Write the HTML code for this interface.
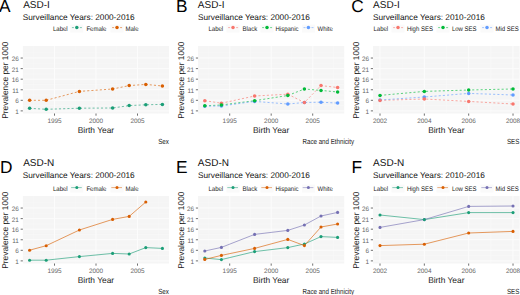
<!DOCTYPE html>
<html><head><meta charset="utf-8"><style>
html,body{margin:0;padding:0;background:#fff;width:520px;height:295px;overflow:hidden}
svg{display:block}
text{font-family:"Liberation Sans", sans-serif;text-rendering:geometricPrecision}
</style></head><body>
<svg width="520" height="295" viewBox="0 0 520 295">
<text x="-1.00" y="11.70" font-size="17.3" fill="#000" text-anchor="start" >A</text>
<text x="23.15" y="7.60" font-size="10" fill="#111" text-anchor="start" >ASD-I</text>
<text x="22.75" y="19.50" font-size="8.25" fill="#111" text-anchor="start" >Surveillance Years: 2000-2016</text>
<text x="0" y="0" font-size="6.0" fill="#222" text-anchor="start" transform="translate(53.02,30.60) scale(1,1.12)">Label</text>
<rect x="70.30" y="24.60" width="13" height="8" fill="#FAFAFA"/>
<line x1="71.90" y1="27.60" x2="81.90" y2="27.60" stroke="#1B9E77" stroke-width="0.9" stroke-opacity="0.6" stroke-dasharray="2 2"/>
<circle cx="76.80" cy="27.60" r="1.75" fill="#1B9E77"/>
<text x="0" y="0" font-size="6.0" fill="#222" text-anchor="start" transform="translate(86.42,30.60) scale(1,1.12)">Female</text>
<rect x="110.50" y="24.60" width="13" height="8" fill="#FAFAFA"/>
<line x1="112.10" y1="27.60" x2="122.10" y2="27.60" stroke="#D95F02" stroke-width="0.9" stroke-opacity="0.6" stroke-dasharray="2 2"/>
<circle cx="117.00" cy="27.60" r="1.75" fill="#D95F02"/>
<text x="0" y="0" font-size="6.0" fill="#222" text-anchor="start" transform="translate(125.52,30.60) scale(1,1.12)">Male</text>
<rect x="22.85" y="46.00" width="146.15" height="67.50" fill="#F5F5F5"/>
<line x1="22.85" y1="105.60" x2="169.00" y2="105.60" stroke="#F8F8F8" stroke-width="0.6"/>
<line x1="22.85" y1="95.03" x2="169.00" y2="95.03" stroke="#F8F8F8" stroke-width="0.6"/>
<line x1="22.85" y1="84.46" x2="169.00" y2="84.46" stroke="#F8F8F8" stroke-width="0.6"/>
<line x1="22.85" y1="73.89" x2="169.00" y2="73.89" stroke="#F8F8F8" stroke-width="0.6"/>
<line x1="22.85" y1="63.32" x2="169.00" y2="63.32" stroke="#F8F8F8" stroke-width="0.6"/>
<line x1="22.85" y1="52.75" x2="169.00" y2="52.75" stroke="#F8F8F8" stroke-width="0.6"/>
<line x1="33.75" y1="46.00" x2="33.75" y2="113.50" stroke="#F8F8F8" stroke-width="0.6"/>
<line x1="75.25" y1="46.00" x2="75.25" y2="113.50" stroke="#F8F8F8" stroke-width="0.6"/>
<line x1="116.75" y1="46.00" x2="116.75" y2="113.50" stroke="#F8F8F8" stroke-width="0.6"/>
<line x1="158.25" y1="46.00" x2="158.25" y2="113.50" stroke="#F8F8F8" stroke-width="0.6"/>
<line x1="22.85" y1="110.89" x2="169.00" y2="110.89" stroke="#FCFCFC" stroke-width="1"/>
<line x1="20.65" y1="110.89" x2="22.85" y2="110.89" stroke="#333" stroke-width="0.7"/>
<text x="18.85" y="113.99" font-size="6.4" fill="#666" text-anchor="end" >1</text>
<line x1="22.85" y1="100.32" x2="169.00" y2="100.32" stroke="#FCFCFC" stroke-width="1"/>
<line x1="20.65" y1="100.32" x2="22.85" y2="100.32" stroke="#333" stroke-width="0.7"/>
<text x="18.85" y="103.42" font-size="6.4" fill="#666" text-anchor="end" >6</text>
<line x1="22.85" y1="89.75" x2="169.00" y2="89.75" stroke="#FCFCFC" stroke-width="1"/>
<line x1="20.65" y1="89.75" x2="22.85" y2="89.75" stroke="#333" stroke-width="0.7"/>
<text x="18.85" y="92.85" font-size="6.4" fill="#666" text-anchor="end" >11</text>
<line x1="22.85" y1="79.18" x2="169.00" y2="79.18" stroke="#FCFCFC" stroke-width="1"/>
<line x1="20.65" y1="79.18" x2="22.85" y2="79.18" stroke="#333" stroke-width="0.7"/>
<text x="18.85" y="82.28" font-size="6.4" fill="#666" text-anchor="end" >16</text>
<line x1="22.85" y1="68.61" x2="169.00" y2="68.61" stroke="#FCFCFC" stroke-width="1"/>
<line x1="20.65" y1="68.61" x2="22.85" y2="68.61" stroke="#333" stroke-width="0.7"/>
<text x="18.85" y="71.71" font-size="6.4" fill="#666" text-anchor="end" >21</text>
<line x1="22.85" y1="58.04" x2="169.00" y2="58.04" stroke="#FCFCFC" stroke-width="1"/>
<line x1="20.65" y1="58.04" x2="22.85" y2="58.04" stroke="#333" stroke-width="0.7"/>
<text x="18.85" y="61.14" font-size="6.4" fill="#666" text-anchor="end" >26</text>
<line x1="54.50" y1="46.00" x2="54.50" y2="113.50" stroke="#FCFCFC" stroke-width="1"/>
<line x1="54.50" y1="113.50" x2="54.50" y2="115.70" stroke="#333" stroke-width="0.7"/>
<text x="54.50" y="122.70" font-size="6.4" fill="#666" text-anchor="middle" >1995</text>
<line x1="96.00" y1="46.00" x2="96.00" y2="113.50" stroke="#FCFCFC" stroke-width="1"/>
<line x1="96.00" y1="113.50" x2="96.00" y2="115.70" stroke="#333" stroke-width="0.7"/>
<text x="96.00" y="122.70" font-size="6.4" fill="#666" text-anchor="middle" >2000</text>
<line x1="137.50" y1="46.00" x2="137.50" y2="113.50" stroke="#FCFCFC" stroke-width="1"/>
<line x1="137.50" y1="113.50" x2="137.50" y2="115.70" stroke="#333" stroke-width="0.7"/>
<text x="137.50" y="122.70" font-size="6.4" fill="#666" text-anchor="middle" >2005</text>
<text x="95.93" y="133.00" font-size="8.4" fill="#1a1a1a" text-anchor="middle" >Birth Year</text>
<text x="0.00" y="0.00" font-size="8.4" fill="#1a1a1a" text-anchor="middle" transform="translate(8.30,80.15) rotate(-90)">Prevalence per 1000</text>
<text x="0" y="0" font-size="6.2" fill="#222" text-anchor="end" transform="translate(168.91,143.50) scale(1,1.2)">Sex</text>
<polyline points="29.60,108.30 46.20,109.30 79.40,108.20 112.60,108.00 129.20,105.60 145.80,104.80 162.40,104.40" fill="none" stroke="#1B9E77" stroke-width="0.9" stroke-opacity="0.7" stroke-dasharray="2.1 2.1"/>
<polyline points="29.60,100.30 46.20,100.30 79.40,91.40 112.60,89.00 129.20,85.60 145.80,84.40 162.40,86.00" fill="none" stroke="#D95F02" stroke-width="0.9" stroke-opacity="0.7" stroke-dasharray="2.1 2.1"/>
<circle cx="29.60" cy="108.30" r="1.75" fill="#1B9E77"/>
<circle cx="46.20" cy="109.30" r="1.75" fill="#1B9E77"/>
<circle cx="79.40" cy="108.20" r="1.75" fill="#1B9E77"/>
<circle cx="112.60" cy="108.00" r="1.75" fill="#1B9E77"/>
<circle cx="129.20" cy="105.60" r="1.75" fill="#1B9E77"/>
<circle cx="145.80" cy="104.80" r="1.75" fill="#1B9E77"/>
<circle cx="162.40" cy="104.40" r="1.75" fill="#1B9E77"/>
<circle cx="29.60" cy="100.30" r="1.75" fill="#D95F02"/>
<circle cx="46.20" cy="100.30" r="1.75" fill="#D95F02"/>
<circle cx="79.40" cy="91.40" r="1.75" fill="#D95F02"/>
<circle cx="112.60" cy="89.00" r="1.75" fill="#D95F02"/>
<circle cx="129.20" cy="85.60" r="1.75" fill="#D95F02"/>
<circle cx="145.80" cy="84.40" r="1.75" fill="#D95F02"/>
<circle cx="162.40" cy="86.00" r="1.75" fill="#D95F02"/>
<text x="176.00" y="11.70" font-size="17.3" fill="#000" text-anchor="start" >B</text>
<text x="197.85" y="7.60" font-size="10" fill="#111" text-anchor="start" >ASD-I</text>
<text x="197.95" y="19.50" font-size="8.25" fill="#111" text-anchor="start" >Surveillance Years: 2000-2016</text>
<text x="0" y="0" font-size="6.0" fill="#222" text-anchor="start" transform="translate(208.52,30.60) scale(1,1.12)">Label</text>
<rect x="226.50" y="24.60" width="13" height="8" fill="#FAFAFA"/>
<line x1="228.10" y1="27.60" x2="238.10" y2="27.60" stroke="#F8766D" stroke-width="0.9" stroke-opacity="0.6" stroke-dasharray="2 2"/>
<circle cx="233.00" cy="27.60" r="1.75" fill="#F8766D"/>
<text x="0" y="0" font-size="6.0" fill="#222" text-anchor="start" transform="translate(242.52,30.60) scale(1,1.12)">Black</text>
<rect x="260.50" y="24.60" width="13" height="8" fill="#FAFAFA"/>
<line x1="262.10" y1="27.60" x2="272.10" y2="27.60" stroke="#00BA38" stroke-width="0.9" stroke-opacity="0.6" stroke-dasharray="2 2"/>
<circle cx="267.00" cy="27.60" r="1.75" fill="#00BA38"/>
<text x="0" y="0" font-size="6.0" fill="#222" text-anchor="start" transform="translate(275.52,30.60) scale(1,1.12)">Hispanic</text>
<rect x="301.90" y="24.60" width="13" height="8" fill="#FAFAFA"/>
<line x1="303.50" y1="27.60" x2="313.50" y2="27.60" stroke="#619CFF" stroke-width="0.9" stroke-opacity="0.6" stroke-dasharray="2 2"/>
<circle cx="308.40" cy="27.60" r="1.75" fill="#619CFF"/>
<text x="0" y="0" font-size="6.0" fill="#222" text-anchor="start" transform="translate(317.52,30.60) scale(1,1.12)">White</text>
<rect x="198.05" y="46.00" width="146.15" height="67.50" fill="#F5F5F5"/>
<line x1="198.05" y1="105.60" x2="344.20" y2="105.60" stroke="#F8F8F8" stroke-width="0.6"/>
<line x1="198.05" y1="95.03" x2="344.20" y2="95.03" stroke="#F8F8F8" stroke-width="0.6"/>
<line x1="198.05" y1="84.46" x2="344.20" y2="84.46" stroke="#F8F8F8" stroke-width="0.6"/>
<line x1="198.05" y1="73.89" x2="344.20" y2="73.89" stroke="#F8F8F8" stroke-width="0.6"/>
<line x1="198.05" y1="63.32" x2="344.20" y2="63.32" stroke="#F8F8F8" stroke-width="0.6"/>
<line x1="198.05" y1="52.75" x2="344.20" y2="52.75" stroke="#F8F8F8" stroke-width="0.6"/>
<line x1="208.95" y1="46.00" x2="208.95" y2="113.50" stroke="#F8F8F8" stroke-width="0.6"/>
<line x1="250.45" y1="46.00" x2="250.45" y2="113.50" stroke="#F8F8F8" stroke-width="0.6"/>
<line x1="291.95" y1="46.00" x2="291.95" y2="113.50" stroke="#F8F8F8" stroke-width="0.6"/>
<line x1="333.45" y1="46.00" x2="333.45" y2="113.50" stroke="#F8F8F8" stroke-width="0.6"/>
<line x1="198.05" y1="110.89" x2="344.20" y2="110.89" stroke="#FCFCFC" stroke-width="1"/>
<line x1="195.85" y1="110.89" x2="198.05" y2="110.89" stroke="#333" stroke-width="0.7"/>
<text x="194.05" y="113.99" font-size="6.4" fill="#666" text-anchor="end" >1</text>
<line x1="198.05" y1="100.32" x2="344.20" y2="100.32" stroke="#FCFCFC" stroke-width="1"/>
<line x1="195.85" y1="100.32" x2="198.05" y2="100.32" stroke="#333" stroke-width="0.7"/>
<text x="194.05" y="103.42" font-size="6.4" fill="#666" text-anchor="end" >6</text>
<line x1="198.05" y1="89.75" x2="344.20" y2="89.75" stroke="#FCFCFC" stroke-width="1"/>
<line x1="195.85" y1="89.75" x2="198.05" y2="89.75" stroke="#333" stroke-width="0.7"/>
<text x="194.05" y="92.85" font-size="6.4" fill="#666" text-anchor="end" >11</text>
<line x1="198.05" y1="79.18" x2="344.20" y2="79.18" stroke="#FCFCFC" stroke-width="1"/>
<line x1="195.85" y1="79.18" x2="198.05" y2="79.18" stroke="#333" stroke-width="0.7"/>
<text x="194.05" y="82.28" font-size="6.4" fill="#666" text-anchor="end" >16</text>
<line x1="198.05" y1="68.61" x2="344.20" y2="68.61" stroke="#FCFCFC" stroke-width="1"/>
<line x1="195.85" y1="68.61" x2="198.05" y2="68.61" stroke="#333" stroke-width="0.7"/>
<text x="194.05" y="71.71" font-size="6.4" fill="#666" text-anchor="end" >21</text>
<line x1="198.05" y1="58.04" x2="344.20" y2="58.04" stroke="#FCFCFC" stroke-width="1"/>
<line x1="195.85" y1="58.04" x2="198.05" y2="58.04" stroke="#333" stroke-width="0.7"/>
<text x="194.05" y="61.14" font-size="6.4" fill="#666" text-anchor="end" >26</text>
<line x1="229.70" y1="46.00" x2="229.70" y2="113.50" stroke="#FCFCFC" stroke-width="1"/>
<line x1="229.70" y1="113.50" x2="229.70" y2="115.70" stroke="#333" stroke-width="0.7"/>
<text x="229.70" y="122.70" font-size="6.4" fill="#666" text-anchor="middle" >1995</text>
<line x1="271.20" y1="46.00" x2="271.20" y2="113.50" stroke="#FCFCFC" stroke-width="1"/>
<line x1="271.20" y1="113.50" x2="271.20" y2="115.70" stroke="#333" stroke-width="0.7"/>
<text x="271.20" y="122.70" font-size="6.4" fill="#666" text-anchor="middle" >2000</text>
<line x1="312.70" y1="46.00" x2="312.70" y2="113.50" stroke="#FCFCFC" stroke-width="1"/>
<line x1="312.70" y1="113.50" x2="312.70" y2="115.70" stroke="#333" stroke-width="0.7"/>
<text x="312.70" y="122.70" font-size="6.4" fill="#666" text-anchor="middle" >2005</text>
<text x="271.12" y="133.00" font-size="8.4" fill="#1a1a1a" text-anchor="middle" >Birth Year</text>
<text x="0.00" y="0.00" font-size="8.4" fill="#1a1a1a" text-anchor="middle" transform="translate(183.70,80.15) rotate(-90)">Prevalence per 1000</text>
<text x="0" y="0" font-size="6.2" fill="#222" text-anchor="end" transform="translate(354.06,143.50) scale(1,1.2)">Race and Ethnicity</text>
<polyline points="204.80,100.70 221.40,103.20 254.60,96.00 287.80,94.20 304.40,102.50 321.00,85.60 337.60,87.50" fill="none" stroke="#F8766D" stroke-width="0.9" stroke-opacity="0.7" stroke-dasharray="2.1 2.1"/>
<polyline points="204.80,105.80 221.40,105.00 254.60,100.70 287.80,95.50 304.40,89.00 321.00,90.40 337.60,92.00" fill="none" stroke="#00BA38" stroke-width="0.9" stroke-opacity="0.7" stroke-dasharray="2.1 2.1"/>
<polyline points="204.80,106.20 221.40,106.00 254.60,101.40 287.80,104.00 304.40,102.50 321.00,102.20 337.60,103.10" fill="none" stroke="#619CFF" stroke-width="0.9" stroke-opacity="0.7" stroke-dasharray="2.1 2.1"/>
<circle cx="204.80" cy="106.20" r="1.75" fill="#619CFF"/>
<circle cx="221.40" cy="106.00" r="1.75" fill="#619CFF"/>
<circle cx="254.60" cy="101.40" r="1.75" fill="#619CFF"/>
<circle cx="287.80" cy="104.00" r="1.75" fill="#619CFF"/>
<circle cx="304.40" cy="102.50" r="1.75" fill="#619CFF"/>
<circle cx="321.00" cy="102.20" r="1.75" fill="#619CFF"/>
<circle cx="337.60" cy="103.10" r="1.75" fill="#619CFF"/>
<circle cx="204.80" cy="100.70" r="1.75" fill="#F8766D"/>
<circle cx="221.40" cy="103.20" r="1.75" fill="#F8766D"/>
<circle cx="254.60" cy="96.00" r="1.75" fill="#F8766D"/>
<circle cx="287.80" cy="94.20" r="1.75" fill="#F8766D"/>
<circle cx="304.40" cy="102.50" r="1.75" fill="#F8766D"/>
<circle cx="321.00" cy="85.60" r="1.75" fill="#F8766D"/>
<circle cx="337.60" cy="87.50" r="1.75" fill="#F8766D"/>
<circle cx="204.80" cy="105.80" r="1.75" fill="#00BA38"/>
<circle cx="221.40" cy="105.00" r="1.75" fill="#00BA38"/>
<circle cx="254.60" cy="100.70" r="1.75" fill="#00BA38"/>
<circle cx="287.80" cy="95.50" r="1.75" fill="#00BA38"/>
<circle cx="304.40" cy="89.00" r="1.75" fill="#00BA38"/>
<circle cx="321.00" cy="90.40" r="1.75" fill="#00BA38"/>
<circle cx="337.60" cy="92.00" r="1.75" fill="#00BA38"/>
<text x="351.30" y="11.70" font-size="17.3" fill="#000" text-anchor="start" >C</text>
<text x="373.10" y="7.60" font-size="10" fill="#111" text-anchor="start" >ASD-I</text>
<text x="372.90" y="19.50" font-size="8.25" fill="#111" text-anchor="start" >Surveillance Years: 2010-2016</text>
<text x="0" y="0" font-size="6.0" fill="#222" text-anchor="start" transform="translate(373.52,30.60) scale(1,1.12)">Label</text>
<rect x="391.50" y="24.60" width="13" height="8" fill="#FAFAFA"/>
<line x1="393.10" y1="27.60" x2="403.10" y2="27.60" stroke="#F8766D" stroke-width="0.9" stroke-opacity="0.6" stroke-dasharray="2 2"/>
<circle cx="398.00" cy="27.60" r="1.75" fill="#F8766D"/>
<text x="0" y="0" font-size="6.0" fill="#222" text-anchor="start" transform="translate(406.92,30.60) scale(1,1.12)">High SES</text>
<rect x="436.50" y="24.60" width="13" height="8" fill="#FAFAFA"/>
<line x1="438.10" y1="27.60" x2="448.10" y2="27.60" stroke="#00BA38" stroke-width="0.9" stroke-opacity="0.6" stroke-dasharray="2 2"/>
<circle cx="443.00" cy="27.60" r="1.75" fill="#00BA38"/>
<text x="0" y="0" font-size="6.0" fill="#222" text-anchor="start" transform="translate(451.92,30.60) scale(1,1.12)">Low SES</text>
<rect x="480.50" y="24.60" width="13" height="8" fill="#FAFAFA"/>
<line x1="482.10" y1="27.60" x2="492.10" y2="27.60" stroke="#619CFF" stroke-width="0.9" stroke-opacity="0.6" stroke-dasharray="2 2"/>
<circle cx="487.00" cy="27.60" r="1.75" fill="#619CFF"/>
<text x="0" y="0" font-size="6.0" fill="#222" text-anchor="start" transform="translate(495.52,30.60) scale(1,1.12)">Mid SES</text>
<rect x="373.00" y="46.00" width="146.60" height="67.50" fill="#F5F5F5"/>
<line x1="373.00" y1="105.60" x2="519.60" y2="105.60" stroke="#F8F8F8" stroke-width="0.6"/>
<line x1="373.00" y1="95.03" x2="519.60" y2="95.03" stroke="#F8F8F8" stroke-width="0.6"/>
<line x1="373.00" y1="84.46" x2="519.60" y2="84.46" stroke="#F8F8F8" stroke-width="0.6"/>
<line x1="373.00" y1="73.89" x2="519.60" y2="73.89" stroke="#F8F8F8" stroke-width="0.6"/>
<line x1="373.00" y1="63.32" x2="519.60" y2="63.32" stroke="#F8F8F8" stroke-width="0.6"/>
<line x1="373.00" y1="52.75" x2="519.60" y2="52.75" stroke="#F8F8F8" stroke-width="0.6"/>
<line x1="402.17" y1="46.00" x2="402.17" y2="113.50" stroke="#F8F8F8" stroke-width="0.6"/>
<line x1="446.51" y1="46.00" x2="446.51" y2="113.50" stroke="#F8F8F8" stroke-width="0.6"/>
<line x1="490.85" y1="46.00" x2="490.85" y2="113.50" stroke="#F8F8F8" stroke-width="0.6"/>
<line x1="373.00" y1="110.89" x2="519.60" y2="110.89" stroke="#FCFCFC" stroke-width="1"/>
<line x1="370.80" y1="110.89" x2="373.00" y2="110.89" stroke="#333" stroke-width="0.7"/>
<text x="369.00" y="113.99" font-size="6.4" fill="#666" text-anchor="end" >1</text>
<line x1="373.00" y1="100.32" x2="519.60" y2="100.32" stroke="#FCFCFC" stroke-width="1"/>
<line x1="370.80" y1="100.32" x2="373.00" y2="100.32" stroke="#333" stroke-width="0.7"/>
<text x="369.00" y="103.42" font-size="6.4" fill="#666" text-anchor="end" >6</text>
<line x1="373.00" y1="89.75" x2="519.60" y2="89.75" stroke="#FCFCFC" stroke-width="1"/>
<line x1="370.80" y1="89.75" x2="373.00" y2="89.75" stroke="#333" stroke-width="0.7"/>
<text x="369.00" y="92.85" font-size="6.4" fill="#666" text-anchor="end" >11</text>
<line x1="373.00" y1="79.18" x2="519.60" y2="79.18" stroke="#FCFCFC" stroke-width="1"/>
<line x1="370.80" y1="79.18" x2="373.00" y2="79.18" stroke="#333" stroke-width="0.7"/>
<text x="369.00" y="82.28" font-size="6.4" fill="#666" text-anchor="end" >16</text>
<line x1="373.00" y1="68.61" x2="519.60" y2="68.61" stroke="#FCFCFC" stroke-width="1"/>
<line x1="370.80" y1="68.61" x2="373.00" y2="68.61" stroke="#333" stroke-width="0.7"/>
<text x="369.00" y="71.71" font-size="6.4" fill="#666" text-anchor="end" >21</text>
<line x1="373.00" y1="58.04" x2="519.60" y2="58.04" stroke="#FCFCFC" stroke-width="1"/>
<line x1="370.80" y1="58.04" x2="373.00" y2="58.04" stroke="#333" stroke-width="0.7"/>
<text x="369.00" y="61.14" font-size="6.4" fill="#666" text-anchor="end" >26</text>
<line x1="380.00" y1="46.00" x2="380.00" y2="113.50" stroke="#FCFCFC" stroke-width="1"/>
<line x1="380.00" y1="113.50" x2="380.00" y2="115.70" stroke="#333" stroke-width="0.7"/>
<text x="380.00" y="122.70" font-size="6.4" fill="#666" text-anchor="middle" >2002</text>
<line x1="424.34" y1="46.00" x2="424.34" y2="113.50" stroke="#FCFCFC" stroke-width="1"/>
<line x1="424.34" y1="113.50" x2="424.34" y2="115.70" stroke="#333" stroke-width="0.7"/>
<text x="424.34" y="122.70" font-size="6.4" fill="#666" text-anchor="middle" >2004</text>
<line x1="468.68" y1="46.00" x2="468.68" y2="113.50" stroke="#FCFCFC" stroke-width="1"/>
<line x1="468.68" y1="113.50" x2="468.68" y2="115.70" stroke="#333" stroke-width="0.7"/>
<text x="468.68" y="122.70" font-size="6.4" fill="#666" text-anchor="middle" >2006</text>
<line x1="513.02" y1="46.00" x2="513.02" y2="113.50" stroke="#FCFCFC" stroke-width="1"/>
<line x1="513.02" y1="113.50" x2="513.02" y2="115.70" stroke="#333" stroke-width="0.7"/>
<text x="513.02" y="122.70" font-size="6.4" fill="#666" text-anchor="middle" >2008</text>
<text x="446.30" y="133.00" font-size="8.4" fill="#1a1a1a" text-anchor="middle" >Birth Year</text>
<text x="0.00" y="0.00" font-size="8.4" fill="#1a1a1a" text-anchor="middle" transform="translate(358.90,80.15) rotate(-90)">Prevalence per 1000</text>
<text x="0" y="0" font-size="6.2" fill="#222" text-anchor="end" transform="translate(519.31,143.50) scale(1,1.2)">SES</text>
<polyline points="380.00,100.40 424.34,99.00 468.68,101.40 513.02,104.00" fill="none" stroke="#F8766D" stroke-width="0.9" stroke-opacity="0.7" stroke-dasharray="2.1 2.1"/>
<polyline points="380.00,95.40 424.34,91.40 468.68,90.00 513.02,89.00" fill="none" stroke="#00BA38" stroke-width="0.9" stroke-opacity="0.7" stroke-dasharray="2.1 2.1"/>
<polyline points="380.00,100.00 424.34,97.00 468.68,93.40 513.02,95.00" fill="none" stroke="#619CFF" stroke-width="0.9" stroke-opacity="0.7" stroke-dasharray="2.1 2.1"/>
<circle cx="380.00" cy="100.00" r="1.75" fill="#619CFF"/>
<circle cx="424.34" cy="97.00" r="1.75" fill="#619CFF"/>
<circle cx="468.68" cy="93.40" r="1.75" fill="#619CFF"/>
<circle cx="513.02" cy="95.00" r="1.75" fill="#619CFF"/>
<circle cx="380.00" cy="100.40" r="1.75" fill="#F8766D"/>
<circle cx="424.34" cy="99.00" r="1.75" fill="#F8766D"/>
<circle cx="468.68" cy="101.40" r="1.75" fill="#F8766D"/>
<circle cx="513.02" cy="104.00" r="1.75" fill="#F8766D"/>
<circle cx="380.00" cy="95.40" r="1.75" fill="#00BA38"/>
<circle cx="424.34" cy="91.40" r="1.75" fill="#00BA38"/>
<circle cx="468.68" cy="90.00" r="1.75" fill="#00BA38"/>
<circle cx="513.02" cy="89.00" r="1.75" fill="#00BA38"/>
<text x="0.10" y="172.90" font-size="17.3" fill="#000" text-anchor="start" >D</text>
<text x="23.15" y="165.70" font-size="10" fill="#111" text-anchor="start" >ASD-N</text>
<text x="22.75" y="177.90" font-size="8.25" fill="#111" text-anchor="start" >Surveillance Years: 2000-2016</text>
<text x="0" y="0" font-size="6.0" fill="#222" text-anchor="start" transform="translate(53.02,190.60) scale(1,1.12)">Label</text>
<rect x="70.30" y="184.60" width="13" height="8" fill="#FAFAFA"/>
<line x1="71.10" y1="187.60" x2="81.80" y2="187.60" stroke="#1B9E77" stroke-width="0.9" stroke-opacity="0.55"/>
<circle cx="76.80" cy="187.60" r="1.5" fill="#1B9E77"/>
<text x="0" y="0" font-size="6.0" fill="#222" text-anchor="start" transform="translate(86.42,190.60) scale(1,1.12)">Female</text>
<rect x="110.50" y="184.60" width="13" height="8" fill="#FAFAFA"/>
<line x1="111.30" y1="187.60" x2="122.00" y2="187.60" stroke="#D95F02" stroke-width="0.9" stroke-opacity="0.55"/>
<circle cx="117.00" cy="187.60" r="1.5" fill="#D95F02"/>
<text x="0" y="0" font-size="6.0" fill="#222" text-anchor="start" transform="translate(125.52,190.60) scale(1,1.12)">Male</text>
<rect x="22.85" y="196.00" width="146.15" height="67.50" fill="#F5F5F5"/>
<line x1="22.85" y1="255.60" x2="169.00" y2="255.60" stroke="#F8F8F8" stroke-width="0.6"/>
<line x1="22.85" y1="245.03" x2="169.00" y2="245.03" stroke="#F8F8F8" stroke-width="0.6"/>
<line x1="22.85" y1="234.46" x2="169.00" y2="234.46" stroke="#F8F8F8" stroke-width="0.6"/>
<line x1="22.85" y1="223.89" x2="169.00" y2="223.89" stroke="#F8F8F8" stroke-width="0.6"/>
<line x1="22.85" y1="213.32" x2="169.00" y2="213.32" stroke="#F8F8F8" stroke-width="0.6"/>
<line x1="22.85" y1="202.75" x2="169.00" y2="202.75" stroke="#F8F8F8" stroke-width="0.6"/>
<line x1="33.75" y1="196.00" x2="33.75" y2="263.50" stroke="#F8F8F8" stroke-width="0.6"/>
<line x1="75.25" y1="196.00" x2="75.25" y2="263.50" stroke="#F8F8F8" stroke-width="0.6"/>
<line x1="116.75" y1="196.00" x2="116.75" y2="263.50" stroke="#F8F8F8" stroke-width="0.6"/>
<line x1="158.25" y1="196.00" x2="158.25" y2="263.50" stroke="#F8F8F8" stroke-width="0.6"/>
<line x1="22.85" y1="260.89" x2="169.00" y2="260.89" stroke="#FCFCFC" stroke-width="1"/>
<line x1="20.65" y1="260.89" x2="22.85" y2="260.89" stroke="#333" stroke-width="0.7"/>
<text x="18.85" y="263.99" font-size="6.4" fill="#666" text-anchor="end" >1</text>
<line x1="22.85" y1="250.32" x2="169.00" y2="250.32" stroke="#FCFCFC" stroke-width="1"/>
<line x1="20.65" y1="250.32" x2="22.85" y2="250.32" stroke="#333" stroke-width="0.7"/>
<text x="18.85" y="253.42" font-size="6.4" fill="#666" text-anchor="end" >6</text>
<line x1="22.85" y1="239.75" x2="169.00" y2="239.75" stroke="#FCFCFC" stroke-width="1"/>
<line x1="20.65" y1="239.75" x2="22.85" y2="239.75" stroke="#333" stroke-width="0.7"/>
<text x="18.85" y="242.85" font-size="6.4" fill="#666" text-anchor="end" >11</text>
<line x1="22.85" y1="229.18" x2="169.00" y2="229.18" stroke="#FCFCFC" stroke-width="1"/>
<line x1="20.65" y1="229.18" x2="22.85" y2="229.18" stroke="#333" stroke-width="0.7"/>
<text x="18.85" y="232.28" font-size="6.4" fill="#666" text-anchor="end" >16</text>
<line x1="22.85" y1="218.61" x2="169.00" y2="218.61" stroke="#FCFCFC" stroke-width="1"/>
<line x1="20.65" y1="218.61" x2="22.85" y2="218.61" stroke="#333" stroke-width="0.7"/>
<text x="18.85" y="221.71" font-size="6.4" fill="#666" text-anchor="end" >21</text>
<line x1="22.85" y1="208.04" x2="169.00" y2="208.04" stroke="#FCFCFC" stroke-width="1"/>
<line x1="20.65" y1="208.04" x2="22.85" y2="208.04" stroke="#333" stroke-width="0.7"/>
<text x="18.85" y="211.14" font-size="6.4" fill="#666" text-anchor="end" >26</text>
<line x1="54.50" y1="196.00" x2="54.50" y2="263.50" stroke="#FCFCFC" stroke-width="1"/>
<line x1="54.50" y1="263.50" x2="54.50" y2="265.70" stroke="#333" stroke-width="0.7"/>
<text x="54.50" y="272.70" font-size="6.4" fill="#666" text-anchor="middle" >1995</text>
<line x1="96.00" y1="196.00" x2="96.00" y2="263.50" stroke="#FCFCFC" stroke-width="1"/>
<line x1="96.00" y1="263.50" x2="96.00" y2="265.70" stroke="#333" stroke-width="0.7"/>
<text x="96.00" y="272.70" font-size="6.4" fill="#666" text-anchor="middle" >2000</text>
<line x1="137.50" y1="196.00" x2="137.50" y2="263.50" stroke="#FCFCFC" stroke-width="1"/>
<line x1="137.50" y1="263.50" x2="137.50" y2="265.70" stroke="#333" stroke-width="0.7"/>
<text x="137.50" y="272.70" font-size="6.4" fill="#666" text-anchor="middle" >2005</text>
<text x="95.93" y="283.00" font-size="8.4" fill="#1a1a1a" text-anchor="middle" >Birth Year</text>
<text x="0.00" y="0.00" font-size="8.4" fill="#1a1a1a" text-anchor="middle" transform="translate(8.30,230.15) rotate(-90)">Prevalence per 1000</text>
<text x="0" y="0" font-size="6.2" fill="#222" text-anchor="end" transform="translate(168.91,293.50) scale(1,1.2)">Sex</text>
<polyline points="29.60,260.20 46.20,260.20 79.40,256.60 112.60,253.40 129.20,254.00 145.80,247.60 162.40,248.40" fill="none" stroke="#1B9E77" stroke-width="0.9" stroke-opacity="0.7"/>
<polyline points="29.60,250.20 46.20,245.70 79.40,230.00 112.60,219.40 129.20,216.40 145.80,202.00" fill="none" stroke="#D95F02" stroke-width="0.9" stroke-opacity="0.7"/>
<circle cx="29.60" cy="260.20" r="1.55" fill="#1B9E77"/>
<circle cx="46.20" cy="260.20" r="1.55" fill="#1B9E77"/>
<circle cx="79.40" cy="256.60" r="1.55" fill="#1B9E77"/>
<circle cx="112.60" cy="253.40" r="1.55" fill="#1B9E77"/>
<circle cx="129.20" cy="254.00" r="1.55" fill="#1B9E77"/>
<circle cx="145.80" cy="247.60" r="1.55" fill="#1B9E77"/>
<circle cx="162.40" cy="248.40" r="1.55" fill="#1B9E77"/>
<circle cx="29.60" cy="250.20" r="1.55" fill="#D95F02"/>
<circle cx="46.20" cy="245.70" r="1.55" fill="#D95F02"/>
<circle cx="79.40" cy="230.00" r="1.55" fill="#D95F02"/>
<circle cx="112.60" cy="219.40" r="1.55" fill="#D95F02"/>
<circle cx="129.20" cy="216.40" r="1.55" fill="#D95F02"/>
<circle cx="145.80" cy="202.00" r="1.55" fill="#D95F02"/>
<text x="176.00" y="172.90" font-size="17.3" fill="#000" text-anchor="start" >E</text>
<text x="197.85" y="165.70" font-size="10" fill="#111" text-anchor="start" >ASD-N</text>
<text x="197.95" y="177.90" font-size="8.25" fill="#111" text-anchor="start" >Surveillance Years: 2000-2016</text>
<text x="0" y="0" font-size="6.0" fill="#222" text-anchor="start" transform="translate(208.52,190.60) scale(1,1.12)">Label</text>
<rect x="226.50" y="184.60" width="13" height="8" fill="#FAFAFA"/>
<line x1="227.30" y1="187.60" x2="238.00" y2="187.60" stroke="#1B9E77" stroke-width="0.9" stroke-opacity="0.55"/>
<circle cx="233.00" cy="187.60" r="1.5" fill="#1B9E77"/>
<text x="0" y="0" font-size="6.0" fill="#222" text-anchor="start" transform="translate(242.52,190.60) scale(1,1.12)">Black</text>
<rect x="260.50" y="184.60" width="13" height="8" fill="#FAFAFA"/>
<line x1="261.30" y1="187.60" x2="272.00" y2="187.60" stroke="#D95F02" stroke-width="0.9" stroke-opacity="0.55"/>
<circle cx="267.00" cy="187.60" r="1.5" fill="#D95F02"/>
<text x="0" y="0" font-size="6.0" fill="#222" text-anchor="start" transform="translate(275.52,190.60) scale(1,1.12)">Hispanic</text>
<rect x="301.90" y="184.60" width="13" height="8" fill="#FAFAFA"/>
<line x1="302.70" y1="187.60" x2="313.40" y2="187.60" stroke="#7570B3" stroke-width="0.9" stroke-opacity="0.55"/>
<circle cx="308.40" cy="187.60" r="1.5" fill="#7570B3"/>
<text x="0" y="0" font-size="6.0" fill="#222" text-anchor="start" transform="translate(317.52,190.60) scale(1,1.12)">White</text>
<rect x="198.05" y="196.00" width="146.15" height="67.50" fill="#F5F5F5"/>
<line x1="198.05" y1="255.60" x2="344.20" y2="255.60" stroke="#F8F8F8" stroke-width="0.6"/>
<line x1="198.05" y1="245.03" x2="344.20" y2="245.03" stroke="#F8F8F8" stroke-width="0.6"/>
<line x1="198.05" y1="234.46" x2="344.20" y2="234.46" stroke="#F8F8F8" stroke-width="0.6"/>
<line x1="198.05" y1="223.89" x2="344.20" y2="223.89" stroke="#F8F8F8" stroke-width="0.6"/>
<line x1="198.05" y1="213.32" x2="344.20" y2="213.32" stroke="#F8F8F8" stroke-width="0.6"/>
<line x1="198.05" y1="202.75" x2="344.20" y2="202.75" stroke="#F8F8F8" stroke-width="0.6"/>
<line x1="208.95" y1="196.00" x2="208.95" y2="263.50" stroke="#F8F8F8" stroke-width="0.6"/>
<line x1="250.45" y1="196.00" x2="250.45" y2="263.50" stroke="#F8F8F8" stroke-width="0.6"/>
<line x1="291.95" y1="196.00" x2="291.95" y2="263.50" stroke="#F8F8F8" stroke-width="0.6"/>
<line x1="333.45" y1="196.00" x2="333.45" y2="263.50" stroke="#F8F8F8" stroke-width="0.6"/>
<line x1="198.05" y1="260.89" x2="344.20" y2="260.89" stroke="#FCFCFC" stroke-width="1"/>
<line x1="195.85" y1="260.89" x2="198.05" y2="260.89" stroke="#333" stroke-width="0.7"/>
<text x="194.05" y="263.99" font-size="6.4" fill="#666" text-anchor="end" >1</text>
<line x1="198.05" y1="250.32" x2="344.20" y2="250.32" stroke="#FCFCFC" stroke-width="1"/>
<line x1="195.85" y1="250.32" x2="198.05" y2="250.32" stroke="#333" stroke-width="0.7"/>
<text x="194.05" y="253.42" font-size="6.4" fill="#666" text-anchor="end" >6</text>
<line x1="198.05" y1="239.75" x2="344.20" y2="239.75" stroke="#FCFCFC" stroke-width="1"/>
<line x1="195.85" y1="239.75" x2="198.05" y2="239.75" stroke="#333" stroke-width="0.7"/>
<text x="194.05" y="242.85" font-size="6.4" fill="#666" text-anchor="end" >11</text>
<line x1="198.05" y1="229.18" x2="344.20" y2="229.18" stroke="#FCFCFC" stroke-width="1"/>
<line x1="195.85" y1="229.18" x2="198.05" y2="229.18" stroke="#333" stroke-width="0.7"/>
<text x="194.05" y="232.28" font-size="6.4" fill="#666" text-anchor="end" >16</text>
<line x1="198.05" y1="218.61" x2="344.20" y2="218.61" stroke="#FCFCFC" stroke-width="1"/>
<line x1="195.85" y1="218.61" x2="198.05" y2="218.61" stroke="#333" stroke-width="0.7"/>
<text x="194.05" y="221.71" font-size="6.4" fill="#666" text-anchor="end" >21</text>
<line x1="198.05" y1="208.04" x2="344.20" y2="208.04" stroke="#FCFCFC" stroke-width="1"/>
<line x1="195.85" y1="208.04" x2="198.05" y2="208.04" stroke="#333" stroke-width="0.7"/>
<text x="194.05" y="211.14" font-size="6.4" fill="#666" text-anchor="end" >26</text>
<line x1="229.70" y1="196.00" x2="229.70" y2="263.50" stroke="#FCFCFC" stroke-width="1"/>
<line x1="229.70" y1="263.50" x2="229.70" y2="265.70" stroke="#333" stroke-width="0.7"/>
<text x="229.70" y="272.70" font-size="6.4" fill="#666" text-anchor="middle" >1995</text>
<line x1="271.20" y1="196.00" x2="271.20" y2="263.50" stroke="#FCFCFC" stroke-width="1"/>
<line x1="271.20" y1="263.50" x2="271.20" y2="265.70" stroke="#333" stroke-width="0.7"/>
<text x="271.20" y="272.70" font-size="6.4" fill="#666" text-anchor="middle" >2000</text>
<line x1="312.70" y1="196.00" x2="312.70" y2="263.50" stroke="#FCFCFC" stroke-width="1"/>
<line x1="312.70" y1="263.50" x2="312.70" y2="265.70" stroke="#333" stroke-width="0.7"/>
<text x="312.70" y="272.70" font-size="6.4" fill="#666" text-anchor="middle" >2005</text>
<text x="271.12" y="283.00" font-size="8.4" fill="#1a1a1a" text-anchor="middle" >Birth Year</text>
<text x="0.00" y="0.00" font-size="8.4" fill="#1a1a1a" text-anchor="middle" transform="translate(183.70,230.15) rotate(-90)">Prevalence per 1000</text>
<text x="0" y="0" font-size="6.2" fill="#222" text-anchor="end" transform="translate(354.06,293.50) scale(1,1.2)">Race and Ethnicity</text>
<polyline points="204.80,258.00 221.40,259.60 254.60,251.60 287.80,247.60 304.40,244.00 321.00,236.60 337.60,237.40" fill="none" stroke="#1B9E77" stroke-width="0.9" stroke-opacity="0.7"/>
<polyline points="204.80,259.40 221.40,255.40 254.60,248.40 287.80,239.40 304.40,245.60 321.00,227.00 337.60,224.00" fill="none" stroke="#D95F02" stroke-width="0.9" stroke-opacity="0.7"/>
<polyline points="204.80,251.00 221.40,247.40 254.60,234.40 287.80,230.40 304.40,225.00 321.00,216.00 337.60,212.40" fill="none" stroke="#7570B3" stroke-width="0.9" stroke-opacity="0.7"/>
<circle cx="204.80" cy="251.00" r="1.55" fill="#7570B3"/>
<circle cx="221.40" cy="247.40" r="1.55" fill="#7570B3"/>
<circle cx="254.60" cy="234.40" r="1.55" fill="#7570B3"/>
<circle cx="287.80" cy="230.40" r="1.55" fill="#7570B3"/>
<circle cx="304.40" cy="225.00" r="1.55" fill="#7570B3"/>
<circle cx="321.00" cy="216.00" r="1.55" fill="#7570B3"/>
<circle cx="337.60" cy="212.40" r="1.55" fill="#7570B3"/>
<circle cx="204.80" cy="258.00" r="1.55" fill="#1B9E77"/>
<circle cx="221.40" cy="259.60" r="1.55" fill="#1B9E77"/>
<circle cx="254.60" cy="251.60" r="1.55" fill="#1B9E77"/>
<circle cx="287.80" cy="247.60" r="1.55" fill="#1B9E77"/>
<circle cx="304.40" cy="244.00" r="1.55" fill="#1B9E77"/>
<circle cx="321.00" cy="236.60" r="1.55" fill="#1B9E77"/>
<circle cx="337.60" cy="237.40" r="1.55" fill="#1B9E77"/>
<circle cx="204.80" cy="259.40" r="1.55" fill="#D95F02"/>
<circle cx="221.40" cy="255.40" r="1.55" fill="#D95F02"/>
<circle cx="254.60" cy="248.40" r="1.55" fill="#D95F02"/>
<circle cx="287.80" cy="239.40" r="1.55" fill="#D95F02"/>
<circle cx="304.40" cy="245.60" r="1.55" fill="#D95F02"/>
<circle cx="321.00" cy="227.00" r="1.55" fill="#D95F02"/>
<circle cx="337.60" cy="224.00" r="1.55" fill="#D95F02"/>
<text x="351.50" y="172.90" font-size="17.3" fill="#000" text-anchor="start" >F</text>
<text x="373.10" y="165.70" font-size="10" fill="#111" text-anchor="start" >ASD-N</text>
<text x="372.90" y="177.90" font-size="8.25" fill="#111" text-anchor="start" >Surveillance Years: 2010-2016</text>
<text x="0" y="0" font-size="6.0" fill="#222" text-anchor="start" transform="translate(373.52,190.60) scale(1,1.12)">Label</text>
<rect x="391.50" y="184.60" width="13" height="8" fill="#FAFAFA"/>
<line x1="392.30" y1="187.60" x2="403.00" y2="187.60" stroke="#1B9E77" stroke-width="0.9" stroke-opacity="0.55"/>
<circle cx="398.00" cy="187.60" r="1.5" fill="#1B9E77"/>
<text x="0" y="0" font-size="6.0" fill="#222" text-anchor="start" transform="translate(406.92,190.60) scale(1,1.12)">High SES</text>
<rect x="436.50" y="184.60" width="13" height="8" fill="#FAFAFA"/>
<line x1="437.30" y1="187.60" x2="448.00" y2="187.60" stroke="#D95F02" stroke-width="0.9" stroke-opacity="0.55"/>
<circle cx="443.00" cy="187.60" r="1.5" fill="#D95F02"/>
<text x="0" y="0" font-size="6.0" fill="#222" text-anchor="start" transform="translate(451.92,190.60) scale(1,1.12)">Low SES</text>
<rect x="480.50" y="184.60" width="13" height="8" fill="#FAFAFA"/>
<line x1="481.30" y1="187.60" x2="492.00" y2="187.60" stroke="#7570B3" stroke-width="0.9" stroke-opacity="0.55"/>
<circle cx="487.00" cy="187.60" r="1.5" fill="#7570B3"/>
<text x="0" y="0" font-size="6.0" fill="#222" text-anchor="start" transform="translate(495.52,190.60) scale(1,1.12)">Mid SES</text>
<rect x="373.00" y="196.00" width="146.60" height="67.50" fill="#F5F5F5"/>
<line x1="373.00" y1="255.60" x2="519.60" y2="255.60" stroke="#F8F8F8" stroke-width="0.6"/>
<line x1="373.00" y1="245.03" x2="519.60" y2="245.03" stroke="#F8F8F8" stroke-width="0.6"/>
<line x1="373.00" y1="234.46" x2="519.60" y2="234.46" stroke="#F8F8F8" stroke-width="0.6"/>
<line x1="373.00" y1="223.89" x2="519.60" y2="223.89" stroke="#F8F8F8" stroke-width="0.6"/>
<line x1="373.00" y1="213.32" x2="519.60" y2="213.32" stroke="#F8F8F8" stroke-width="0.6"/>
<line x1="373.00" y1="202.75" x2="519.60" y2="202.75" stroke="#F8F8F8" stroke-width="0.6"/>
<line x1="402.17" y1="196.00" x2="402.17" y2="263.50" stroke="#F8F8F8" stroke-width="0.6"/>
<line x1="446.51" y1="196.00" x2="446.51" y2="263.50" stroke="#F8F8F8" stroke-width="0.6"/>
<line x1="490.85" y1="196.00" x2="490.85" y2="263.50" stroke="#F8F8F8" stroke-width="0.6"/>
<line x1="373.00" y1="260.89" x2="519.60" y2="260.89" stroke="#FCFCFC" stroke-width="1"/>
<line x1="370.80" y1="260.89" x2="373.00" y2="260.89" stroke="#333" stroke-width="0.7"/>
<text x="369.00" y="263.99" font-size="6.4" fill="#666" text-anchor="end" >1</text>
<line x1="373.00" y1="250.32" x2="519.60" y2="250.32" stroke="#FCFCFC" stroke-width="1"/>
<line x1="370.80" y1="250.32" x2="373.00" y2="250.32" stroke="#333" stroke-width="0.7"/>
<text x="369.00" y="253.42" font-size="6.4" fill="#666" text-anchor="end" >6</text>
<line x1="373.00" y1="239.75" x2="519.60" y2="239.75" stroke="#FCFCFC" stroke-width="1"/>
<line x1="370.80" y1="239.75" x2="373.00" y2="239.75" stroke="#333" stroke-width="0.7"/>
<text x="369.00" y="242.85" font-size="6.4" fill="#666" text-anchor="end" >11</text>
<line x1="373.00" y1="229.18" x2="519.60" y2="229.18" stroke="#FCFCFC" stroke-width="1"/>
<line x1="370.80" y1="229.18" x2="373.00" y2="229.18" stroke="#333" stroke-width="0.7"/>
<text x="369.00" y="232.28" font-size="6.4" fill="#666" text-anchor="end" >16</text>
<line x1="373.00" y1="218.61" x2="519.60" y2="218.61" stroke="#FCFCFC" stroke-width="1"/>
<line x1="370.80" y1="218.61" x2="373.00" y2="218.61" stroke="#333" stroke-width="0.7"/>
<text x="369.00" y="221.71" font-size="6.4" fill="#666" text-anchor="end" >21</text>
<line x1="373.00" y1="208.04" x2="519.60" y2="208.04" stroke="#FCFCFC" stroke-width="1"/>
<line x1="370.80" y1="208.04" x2="373.00" y2="208.04" stroke="#333" stroke-width="0.7"/>
<text x="369.00" y="211.14" font-size="6.4" fill="#666" text-anchor="end" >26</text>
<line x1="380.00" y1="196.00" x2="380.00" y2="263.50" stroke="#FCFCFC" stroke-width="1"/>
<line x1="380.00" y1="263.50" x2="380.00" y2="265.70" stroke="#333" stroke-width="0.7"/>
<text x="380.00" y="272.70" font-size="6.4" fill="#666" text-anchor="middle" >2002</text>
<line x1="424.34" y1="196.00" x2="424.34" y2="263.50" stroke="#FCFCFC" stroke-width="1"/>
<line x1="424.34" y1="263.50" x2="424.34" y2="265.70" stroke="#333" stroke-width="0.7"/>
<text x="424.34" y="272.70" font-size="6.4" fill="#666" text-anchor="middle" >2004</text>
<line x1="468.68" y1="196.00" x2="468.68" y2="263.50" stroke="#FCFCFC" stroke-width="1"/>
<line x1="468.68" y1="263.50" x2="468.68" y2="265.70" stroke="#333" stroke-width="0.7"/>
<text x="468.68" y="272.70" font-size="6.4" fill="#666" text-anchor="middle" >2006</text>
<line x1="513.02" y1="196.00" x2="513.02" y2="263.50" stroke="#FCFCFC" stroke-width="1"/>
<line x1="513.02" y1="263.50" x2="513.02" y2="265.70" stroke="#333" stroke-width="0.7"/>
<text x="513.02" y="272.70" font-size="6.4" fill="#666" text-anchor="middle" >2008</text>
<text x="446.30" y="283.00" font-size="8.4" fill="#1a1a1a" text-anchor="middle" >Birth Year</text>
<text x="0.00" y="0.00" font-size="8.4" fill="#1a1a1a" text-anchor="middle" transform="translate(358.90,230.15) rotate(-90)">Prevalence per 1000</text>
<text x="0" y="0" font-size="6.2" fill="#222" text-anchor="end" transform="translate(519.31,293.50) scale(1,1.2)">SES</text>
<polyline points="380.00,215.00 424.34,219.60 468.68,212.60 513.02,212.60" fill="none" stroke="#1B9E77" stroke-width="0.9" stroke-opacity="0.7"/>
<polyline points="380.00,245.60 424.34,244.20 468.68,233.00 513.02,231.40" fill="none" stroke="#D95F02" stroke-width="0.9" stroke-opacity="0.7"/>
<polyline points="380.00,227.40 424.34,219.60 468.68,206.40 513.02,206.00" fill="none" stroke="#7570B3" stroke-width="0.9" stroke-opacity="0.7"/>
<circle cx="380.00" cy="227.40" r="1.55" fill="#7570B3"/>
<circle cx="424.34" cy="219.60" r="1.55" fill="#7570B3"/>
<circle cx="468.68" cy="206.40" r="1.55" fill="#7570B3"/>
<circle cx="513.02" cy="206.00" r="1.55" fill="#7570B3"/>
<circle cx="380.00" cy="215.00" r="1.55" fill="#1B9E77"/>
<circle cx="424.34" cy="219.60" r="1.55" fill="#1B9E77"/>
<circle cx="468.68" cy="212.60" r="1.55" fill="#1B9E77"/>
<circle cx="513.02" cy="212.60" r="1.55" fill="#1B9E77"/>
<circle cx="380.00" cy="245.60" r="1.55" fill="#D95F02"/>
<circle cx="424.34" cy="244.20" r="1.55" fill="#D95F02"/>
<circle cx="468.68" cy="233.00" r="1.55" fill="#D95F02"/>
<circle cx="513.02" cy="231.40" r="1.55" fill="#D95F02"/>
</svg>
</body></html>
